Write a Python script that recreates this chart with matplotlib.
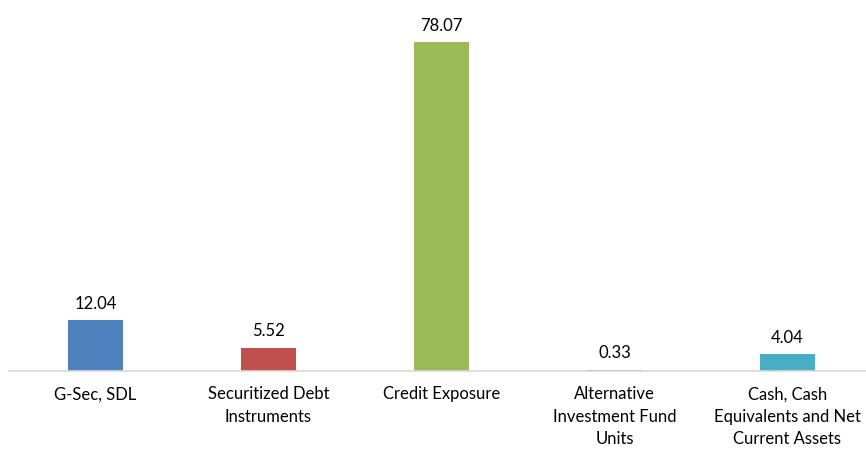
import matplotlib.pyplot as plt

categories = ['G-Sec, SDL', 'Securitized Debt\nInstruments', 'Credit Exposure',
              'Alternative\nInvestment Fund\nUnits',
              'Cash, Cash\nEquivalents and Net\nCurrent Assets']
values = [12.04, 5.52, 78.07, 0.33, 4.04]
labels = ['12.04', '5.52', '78.07', '0.33', '4.04']
colors = ['#4F81BD', '#C0504D', '#9BBB59', '#8064A2', '#4BACC6']

plt.rcParams['font.family'] = ['Lato', 'DejaVu Sans']

fig = plt.figure(figsize=(8.66, 4.49), dpi=100)
ax = fig.add_axes([9 / 866, 1 - 371 / 449, 1 - 9 / 866, 371 / 449])

x = range(len(values))
bars = ax.bar(x, values, width=0.32, color=colors)
for b, lab in zip(bars, labels):
    ax.annotate(lab, (b.get_x() + b.get_width() / 2, b.get_height()),
                xytext=(0, 6), textcoords='offset points',
                ha='center', va='bottom', fontsize=12, color='#000000')

ax.set_xlim(-0.5, 4.454)
ax.set_ylim(0, 88)
ax.set_xticks(list(x))
ax.set_xticklabels(categories, fontsize=12, linespacing=1.5)
ax.tick_params(axis='x', length=0, pad=11)
ax.set_yticks([])
for s in ['top', 'right', 'left']:
    ax.spines[s].set_visible(False)
ax.spines['bottom'].set_color('#D9D9D9')
ax.spines['bottom'].set_linewidth(1.2)

plt.savefig('out.png', dpi=100)
